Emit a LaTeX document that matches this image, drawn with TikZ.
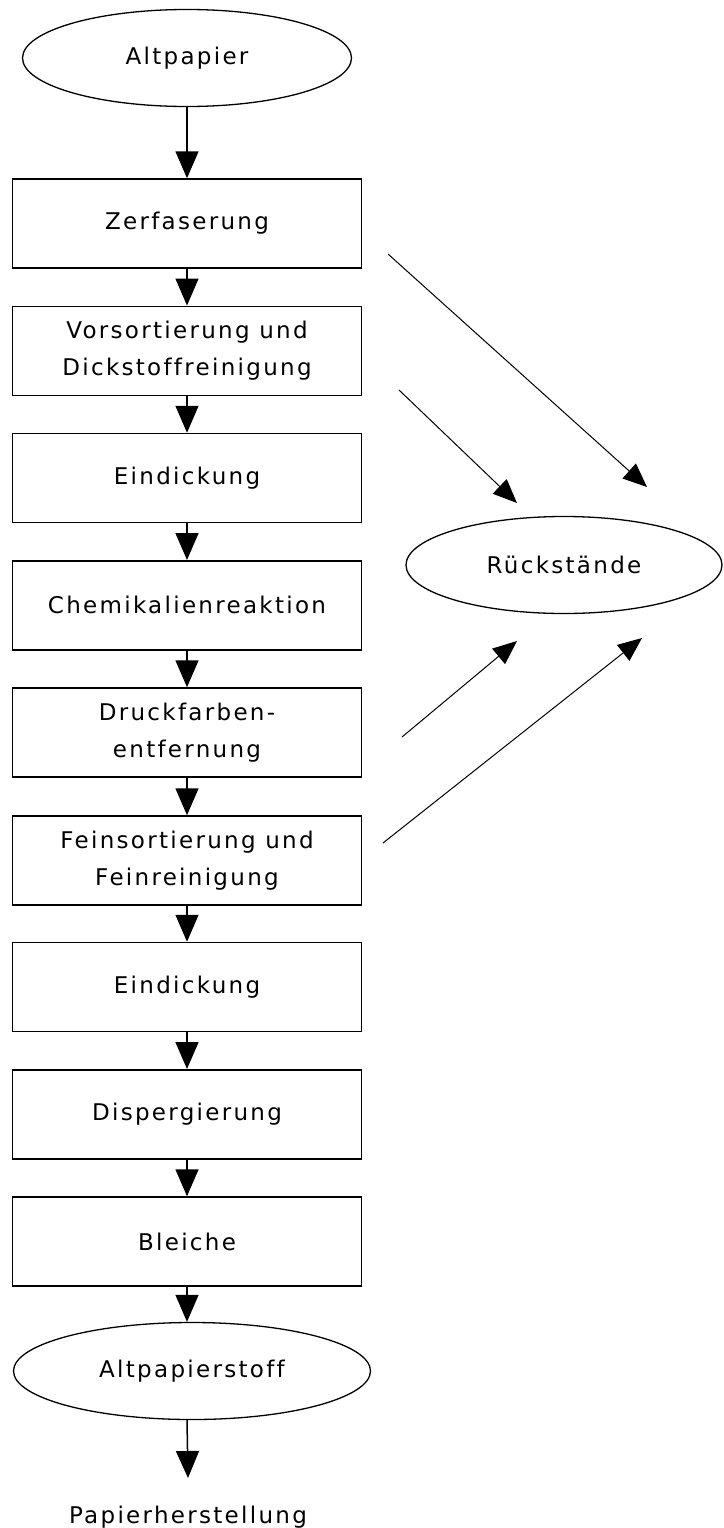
\documentclass[tikz,border=0pt]{standalone}
\usepackage{fontspec}
\setmainfont{DejaVu Sans}[LetterSpace=10,Ligatures=NoCommon]
\usetikzlibrary{arrows.meta,shapes.geometric}
\begin{document}
\begin{tikzpicture}[x=1pt,y=-1pt,
  every node/.style={font=\fontsize{23}{37}\selectfont, align=center},
  stepbox/.style={draw, line width=1.5pt, minimum width=349pt, minimum height=89pt, inner sep=0pt},
  term/.style={draw, ellipse, line width=1.3pt, inner sep=0pt},
  flow/.style={line width=1.5pt, -{Triangle[width=23pt,length=27pt]}},
  side/.style={line width=1pt, -{Triangle[width=20pt,length=24pt]}}]
\useasboundingbox (0,0) rectangle (723,1528);
\fill[white] (0,0) rectangle (723,1528);
\node[term, minimum width=329pt, minimum height=97pt] (alt) at (187,58) {Altpapier};
\node[stepbox] (b1) at (187,223.5) {Zerfaserung};
\node[stepbox] (b2) at (187,350.75) {Vorsortierung und\\Dickstoffreinigung};
\node[stepbox] (b3) at (187,478) {Eindickung};
\node[stepbox] (b4) at (187,605.25) {Chemikalienreaktion};
\node[stepbox] (b5) at (187,732.5) {Druckfarben-\\entfernung};
\node[stepbox] (b6) at (187,860.5) {Feinsortierung und\\Feinreinigung};
\node[stepbox] (b7) at (187,987) {Eindickung};
\node[stepbox] (b8) at (187,1114.25) {Dispergierung};
\node[stepbox] (b9) at (187,1241.5) {Bleiche};
\node[term, minimum width=357pt, minimum height=97pt] (alt2) at (192,1371) {Altpapierstoff};
\node (paper) at (188,1517) {Papierherstellung};
\node[term, minimum width=316pt, minimum height=97pt] (rest) at (564,565) {Rückstände};
\coordinate (pe) at (188,1478);
\draw[flow] (alt) -- (b1);
\draw[flow] (b1) -- (b2);
\draw[flow] (b2) -- (b3);
\draw[flow] (b3) -- (b4);
\draw[flow] (b4) -- (b5);
\draw[flow] (b5) -- (b6);
\draw[flow] (b6) -- (b7);
\draw[flow] (b7) -- (b8);
\draw[flow] (b8) -- (b9);
\draw[flow] (b9.south) -- (b9.south |- alt2.north);
\draw[flow] (b9.south |- alt2.south) -- (pe);
\coordinate (s1) at (388,254);
\coordinate (t1) at (647,487);
\coordinate (s2) at (399,390);
\coordinate (t2) at (517,503);
\coordinate (s3) at (402,737);
\coordinate (t3) at (517,641);
\coordinate (s4) at (383,843);
\coordinate (t4) at (642,638);
\draw[side] (s1) -- (t1);
\draw[side] (s2) -- (t2);
\draw[side] (s3) -- (t3);
\draw[side] (s4) -- (t4);
\end{tikzpicture}
\end{document}
